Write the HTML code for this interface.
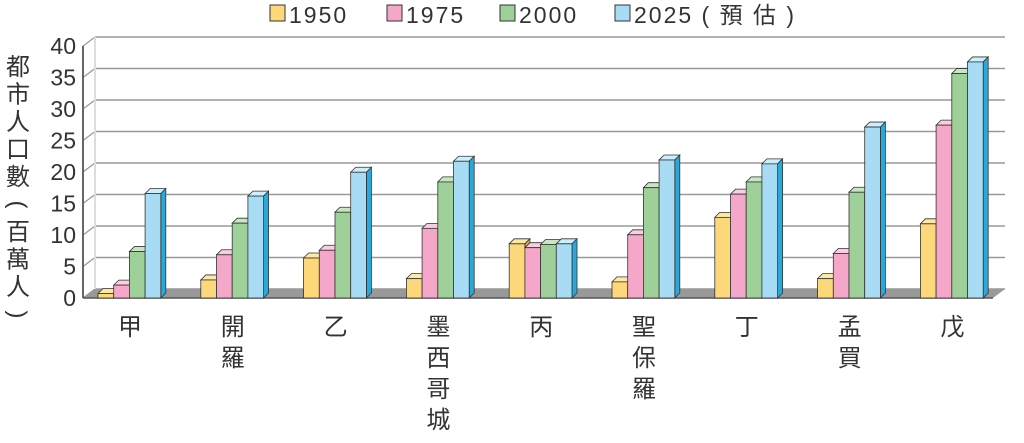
<!DOCTYPE html>
<html><head><meta charset="utf-8"><style>
body{margin:0;background:#fff;width:1024px;height:438px;overflow:hidden}
svg text{font-family:"Liberation Sans","Noto Sans CJK TC",sans-serif;fill:#333}
</style></head><body>
<svg id="s" width="1024" height="438" xmlns="http://www.w3.org/2000/svg"></svg>
<script>
const s=document.getElementById('s');let h='';
const y0=298,k=6.45,dx=12,dy=9;
for(let i=0;i<=8;i++){const y=y0-i*31.5;
 h+=`<line x1="${83+dx}" y1="${y-dy}" x2="1005" y2="${y-dy}" stroke="#999" stroke-width="1.6"/>`;
 h+=`<line x1="83" y1="${y}" x2="${83+dx}" y2="${y-dy}" stroke="#999" stroke-width="1.2"/>`;
 h+=`<text x="76" y="${y+8}" font-size="23" text-anchor="end">${i*5}</text>`;}
h+=`<line x1="${83+dx}" y1="${y0-dy}" x2="${83+dx}" y2="${y0-252-dy}" stroke="#ddd" stroke-width="2"/>`;
h+=`<line x1="83" y1="${y0}" x2="83" y2="${y0-252}" stroke="#666" stroke-width="2"/>`;
h+=`<polygon points="83,${y0} ${83+dx},${y0-dy} 1005,${y0-dy} 993,${y0}" fill="#999"/>`;
h+=`<line x1="83" y1="${y0}" x2="993" y2="${y0}" stroke="#555" stroke-width="1.5"/>`;
const cols=[['#fdd87a','#fbe9a8','#e0b13a'],['#f5a7c9','#fbcde0','#d9669c'],['#9fd09a','#c8e6c2','#5ea65a'],['#a8dcf5','#cdeefb','#2aa8d8']];
const data=[[0.7,2,7.2,16.2],[2.8,6.7,11.6,15.8],[6.2,7.4,13.3,19.5],[3,10.8,18,21.2],[8.4,7.8,8.3,8.4],[2.5,9.8,17.1,21.4],[12.5,16.1,18,20.8],[3,6.9,16.4,26.5],[11.5,26.8,34.8,36.6]];
const bw=15.7,d=5;
data.forEach((g,i)=>{const gx=98+i*102.8;g.forEach((v,j)=>{const x=gx+j*bw,t=y0-v*k,c=cols[j];
 h+=`<polygon points="${x},${t} ${x+d},${t-d} ${x+bw+d},${t-d} ${x+bw},${t}" fill="${c[1]}" stroke="#333" stroke-width="0.8"/>`;
 h+=`<polygon points="${x+bw},${t} ${x+bw+d},${t-d} ${x+bw+d},${y0-d} ${x+bw},${y0}" fill="${c[2]}" stroke="#333" stroke-width="0.8"/>`;
 h+=`<rect x="${x}" y="${t}" width="${bw}" height="${y0-t}" fill="${c[0]}" stroke="#333" stroke-width="0.8"/>`;});});
const labs=['甲','開羅','乙','墨西哥城','丙','聖保羅','丁','孟買','戊'];
labs.forEach((l,i)=>{const cx=130+i*102.8;[...l].forEach((ch,m)=>{h+=`<text x="${cx}" y="${335+m*31}" font-size="24" text-anchor="middle">${ch}</text>`;});});
[...'都市人口數(百萬人)'].forEach((ch,m)=>{const p='()'.includes(ch);
 if(p)h+=`<text x="18" y="${75+m*27.5}" font-size="24" text-anchor="middle" transform="rotate(90 18 ${67+m*27.5})">${ch}</text>`;
 else h+=`<text x="18" y="${75+m*27.5}" font-size="24" text-anchor="middle">${ch}</text>`;});
const lg=[[270,'1950'],[387,'1975'],[500,'2000'],[615,'2025 ( 預 估 )']];
lg.forEach((e,j)=>{h+=`<rect x="${e[0]}" y="5" width="15" height="16" fill="${cols[j][0]}" stroke="#333" stroke-width="1"/>`;
 h+=`<text x="${e[0]+19}" y="23" font-size="23" letter-spacing="2">${e[1]}</text>`;});
s.innerHTML=h;
</script>
</body></html>
